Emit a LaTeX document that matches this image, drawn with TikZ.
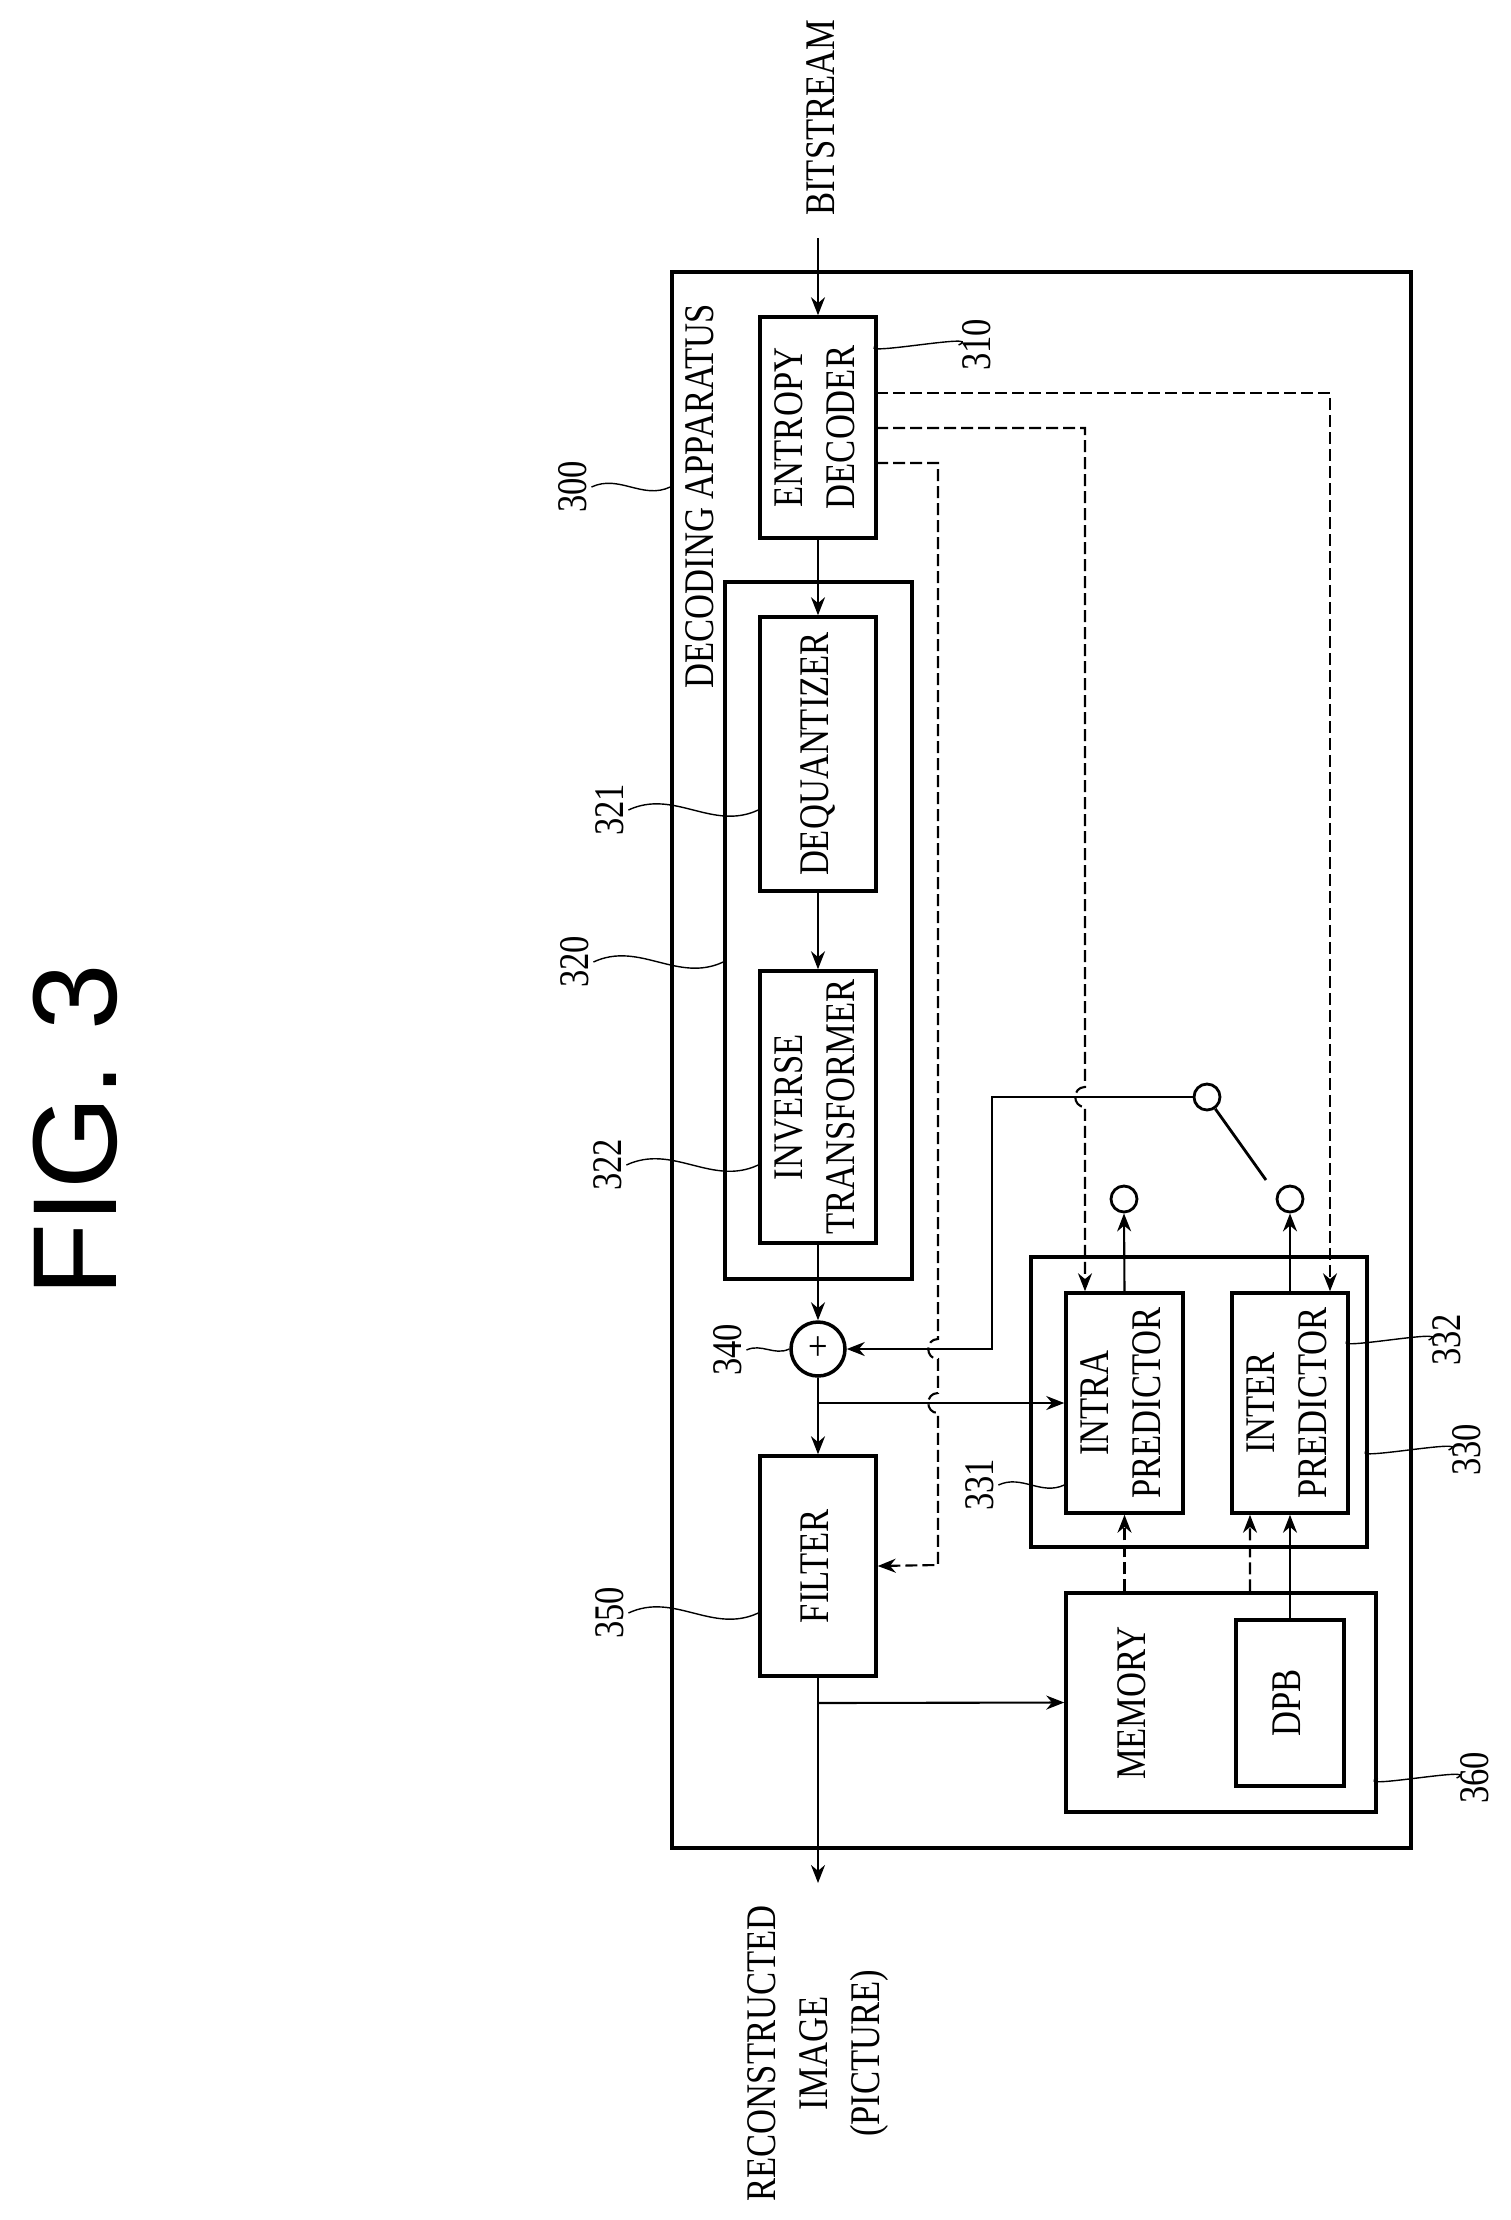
\documentclass[tikz,border=0pt]{standalone}
\usepackage{fontspec}
\setmainfont{Liberation Serif}[FakeStretch=0.82]
\setsansfont{Liberation Sans}
\usetikzlibrary{positioning, arrows.meta}
\newcommand{\vtext}[1]{\rotatebox{90}{\begin{tabular}{@{}c@{}}#1\end{tabular}}}

\begin{document}
\begin{tikzpicture}[x=0.1mm, y=-0.1mm,
        every node/.style={font=\fontsize{12}{14.8}\selectfont},
        blk/.style={draw, line width=1pt, inner sep=0pt},
        arr/.style={-{Stealth[length=1.8mm,width=1.4mm]}, line width=0.6pt},
        dsh/.style={dash pattern=on 1.2mm off 0.5mm, line width=0.6pt},
        num/.style={rotate=90, inner sep=1pt},
        lead/.style={line width=0.5pt, out=25, in=205},
        term/.style={draw, circle, line width=0.8pt, minimum size=2.6mm, inner sep=0pt}
    ]
    \useasboundingbox (0,0) rectangle (1511,2220);

    % Title
    \node[rotate=90, font=\sffamily\fontsize{34}{40}\selectfont] (fig) at (75,1130) {FIG. 3};

    % Frames
    \node[blk, minimum width=73.9mm, minimum height=157.6mm] (b300) at (1041.5,1060) {};
    \node[blk, minimum width=18.7mm, minimum height=69.7mm] (b320) at (818.5,930.5) {};
    \node[blk, minimum width=33.6mm, minimum height=29mm] (b330) at (1199,1402) {};
    \node[blk, minimum width=31mm, minimum height=21.9mm] (mem) at (1221,1702.5) {};
    \node[rotate=90, anchor=east] (app) at (700,292) {DECODING APPARATUS};
    \node[rotate=90] (memtxt) at (1132,1703) {MEMORY};

    % Blocks
    \node[blk, minimum width=11.6mm, minimum height=22.1mm] (ed) at (818,427.5) {\vtext{ENTROPY\\DECODER}};
    \node[blk, minimum width=11.6mm, minimum height=27.4mm] (deq) at (818,754) {\vtext{DEQUANTIZER}};
    \node[blk, minimum width=11.6mm, minimum height=27.2mm] (itr) at (818,1107) {\vtext{INVERSE\\TRANSFORMER}};
    \node[draw, circle, line width=1pt, minimum size=5.4mm, inner sep=0pt] (add) at (818,1349) {+};
    \node[blk, minimum width=11.6mm, minimum height=22mm] (filt) at (818,1566) {\vtext{FILTER}};
    \node[blk, minimum width=11.7mm, minimum height=22mm] (intra) at (1124.5,1403) {\vtext{INTRA\\PREDICTOR}};
    \node[blk, minimum width=11.6mm, minimum height=22mm] (inter) at (1290,1403) {\vtext{INTER\\PREDICTOR}};
    \node[blk, minimum width=10.8mm, minimum height=16.6mm] (dpb) at (1290,1703) {\vtext{DPB}};

    % Switch
    \node[term] (c0) at (1207,1097) {};
    \node[term] (c1) at (1124,1199) {};
    \node[term] (c2) at (1290,1199) {};
    \coordinate (sw) at (1266,1180);

    % In / out
    \coordinate (bsin) at (818,238);
    \coordinate (rcout) at (818,1883);
    \node[rotate=90, anchor=west] (bs) at (821,228) {BITSTREAM};
    \node[rotate=90, anchor=east, align=center] (rc) at (818,1893) {RECONSTRUCTED\\IMAGE\\(PICTURE)};

    % Main path
    \draw[arr] (bsin) -- (ed.north);
    \draw[arr] (ed.south) -- (deq.north);
    \draw[arr] (deq.south) -- (itr.north);
    \draw[arr] (itr.south) -- (add.north);
    \draw[arr] (add.south) -- (filt.north);
    \draw[arr] (filt.south) -- (rcout);
    \coordinate (t1) at (818,1403);
    \coordinate (t2) at (818,1703);
    \draw[arr] (t1) -- (intra.west);
    \draw[arr] (t2) -- (mem.west);

    % Control lines from entropy decoder
    \coordinate (e1) at (876,393);
    \coordinate (e2) at (876,428);
    \coordinate (e3) at (876,463);
    \draw[dsh, arr] (e1) -| ([xshift=4mm]inter.north);
    \draw[dsh, arr] (e2) -- (1085,428) -- (1085,1087)
        .. controls (1072,1087) and (1072,1107) .. (1085,1107) -- ([xshift=-3.95mm]intra.north);
    \draw[dsh, arr] (e3) -- (938,463) -- (938,1339)
        .. controls (925,1339) and (925,1359) .. (938,1359) -- (938,1393)
        .. controls (925,1393) and (925,1413) .. (938,1413) -- (938,1565) -- (filt.east);

    % Predictor outputs and switch
    \draw[arr] (intra.north) -- (c1.south);
    \draw[arr] (inter.north) -- (c2.south);
    \draw[line width=0.8pt] (c0.-55) -- (sw);
    \draw[arr] (c0.west) -- (992,1097) -- (992,1349) -- (add.east);

    % Memory to predictors
    \draw[dsh, arr] (mem.north -| intra.south) -- (intra.south);
    \draw[dsh, arr] (mem.north -| 1250,0) -- ([xshift=-4mm]inter.south);
    \draw[arr] (dpb.north) -- (inter.south);

    % Reference numerals
    \node[num] (l300) at (573,487) {300};
    \node[num] (l310) at (977,345) {310};
    \node[num] (l320) at (575,962) {320};
    \node[num] (l321) at (610,810) {321};
    \node[num] (l322) at (608,1165) {322};
    \node[num] (l340) at (728,1350) {340};
    \node[num] (l350) at (610,1613) {350};
    \node[num] (l331) at (980,1485) {331};
    \node[num] (l332) at (1447,1340) {332};
    \node[num] (l330) at (1467,1450) {330};
    \node[num] (l360) at (1475,1778) {360};
    \draw (l300.south) to[lead] (l300.south -| b300.west);
    \draw (l320.south) to[lead] (l320.south -| b320.west);
    \draw (l321.south) to[lead] (l321.south -| deq.west);
    \draw (l322.south) to[lead] (l322.south -| itr.west);
    \draw (l340.south) to[lead] (add.west);
    \draw (l350.south) to[lead] (l350.south -| filt.west);
    \draw (l331.south) to[lead] (l331.south -| intra.west);
    \draw (l310.north) to[lead] (l310.north -| ed.east);
    \draw (l332.north) to[lead] (l332.north -| inter.east);
    \draw (l330.north) to[lead] (l330.north -| b330.east);
    \draw (l360.north) to[lead] (l360.north -| mem.east);
\end{tikzpicture}
\end{document}
